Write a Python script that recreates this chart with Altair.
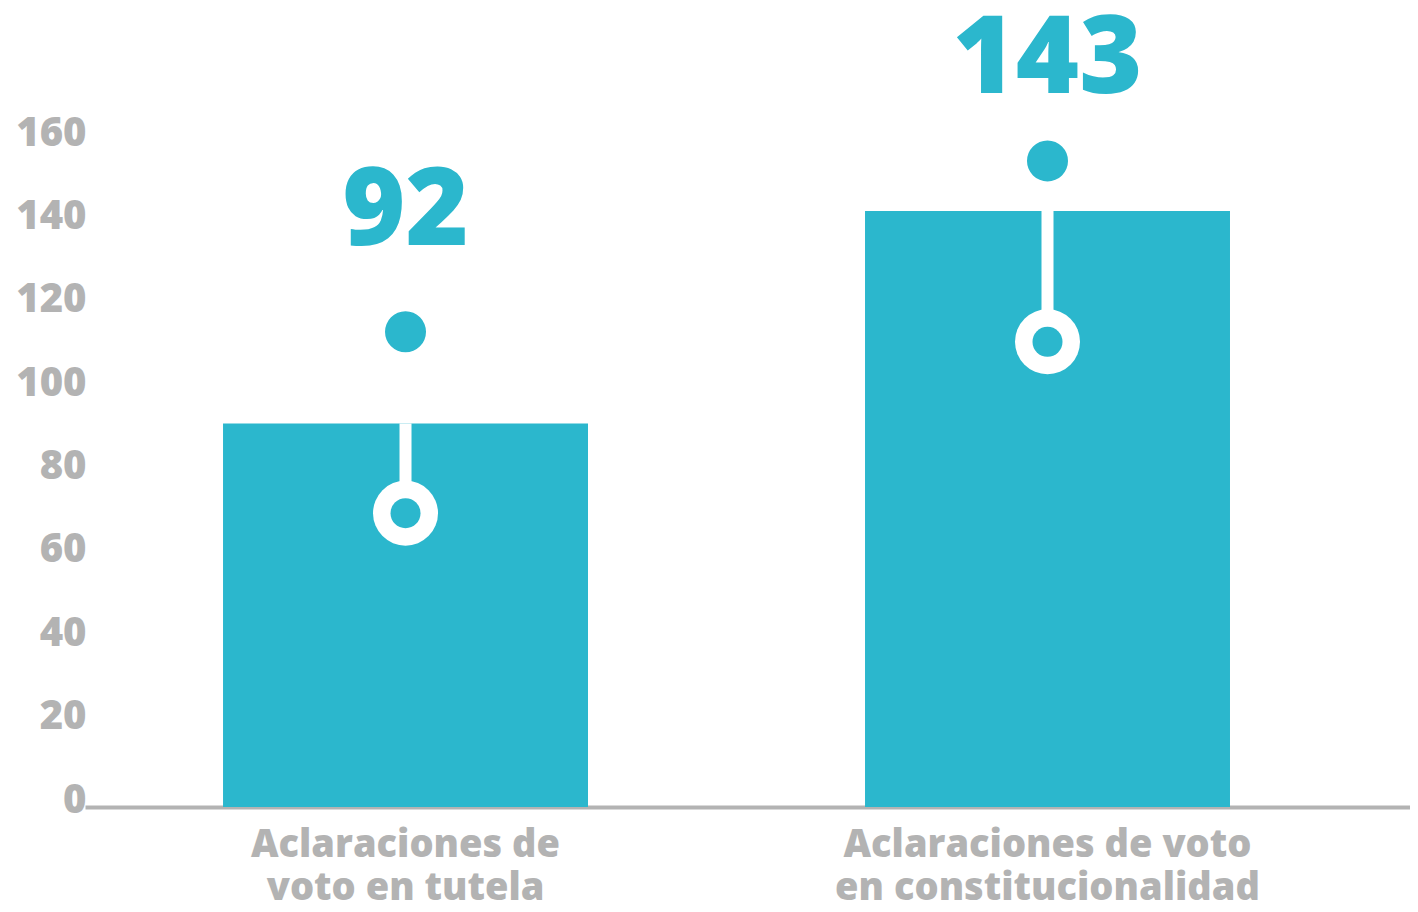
import altair as alt
import pandas as pd

# ---- data ----
categories = ["Aclaraciones de|voto en tutela", "Aclaraciones de voto|en constitucionalidad"]
values = [92, 143]
value_labels = ["92", "143"]
# decorative "pin" elements, in axis units
ring_at = [70.5, 111.6]
dot_at = [114.0, 155.0]
label_at = [134.8, 171.3]
y_ticks = [0, 20, 40, 60, 80, 100, 120, 140, 160]

df = pd.DataFrame({
    "cat": categories,
    "value": values,
    "label": value_labels,
    "ring": ring_at,
    "dot": dot_at,
    "lab": label_at,
})

TEAL = "#2bb7cd"
GREY = "#b3b3b3"
FONT = "Open Sans"
WEIGHT = 800

x_enc = alt.X(
    "cat:N",
    sort=categories,
    scale=alt.Scale(paddingInner=0.4315, paddingOuter=0.2477, align=0.434),
    axis=alt.Axis(
        title=None,
        labelExpr="split(datum.label, '|')",
        labelAngle=0,
        labelFontSize=38,
        labelFont=FONT,
        labelFontWeight=WEIGHT,
        labelColor=GREY,
        labelLineHeight=43,
        labelPadding=19,
        labelBaseline="top",
        labelLimit=0,
        ticks=False,
        domainColor=GREY,
        domainWidth=4,
    ),
)

y_scale = alt.Scale(domain=[0, 190], nice=False)
y_axis = alt.Axis(
    values=y_ticks,
    title=None,
    grid=False,
    domain=False,
    ticks=False,
    labelFontSize=40,
    labelFont=FONT,
    labelFontWeight=WEIGHT,
    labelColor=GREY,
    labelPadding=-1,
    labelOffset=-7,
)

base = alt.Chart(df)

bars = base.mark_bar(color=TEAL).encode(
    x=x_enc, y=alt.Y("value:Q", scale=y_scale, axis=y_axis)
)
stem = base.mark_rule(color="white", strokeWidth=12).encode(
    x=x_enc, y=alt.Y("value:Q", scale=y_scale, axis=y_axis), y2="ring:Q"
)
ring_outer = base.mark_point(
    filled=True, shape="circle", size=4225, color="white", opacity=1, strokeWidth=0
).encode(x=x_enc, y=alt.Y("ring:Q", scale=y_scale, axis=y_axis))
ring_inner = base.mark_point(
    filled=True, shape="circle", size=900, color=TEAL, opacity=1, strokeWidth=0
).encode(x=x_enc, y=alt.Y("ring:Q", scale=y_scale, axis=y_axis))
dot = base.mark_point(
    filled=True, shape="circle", size=1681, color=TEAL, opacity=1, strokeWidth=0
).encode(x=x_enc, y=alt.Y("dot:Q", scale=y_scale, axis=y_axis))
text = base.mark_text(
    font=FONT, fontSize=108, fontWeight=WEIGHT, color=TEAL, baseline="alphabetic"
).encode(x=x_enc, y=alt.Y("lab:Q", scale=y_scale, axis=y_axis), text="label:N")

chart = (
    alt.layer(bars, stem, ring_outer, ring_inner, dot, text)
    .properties(
        width=1325,
        height=792,
        padding={"left": 77, "top": 7, "right": 0, "bottom": 97},
        autosize=alt.AutoSizeParams(type="none"),
    )
    .configure_view(stroke=None)
)

chart.save("out.html", embed_options={"renderer": "svg", "actions": False})
